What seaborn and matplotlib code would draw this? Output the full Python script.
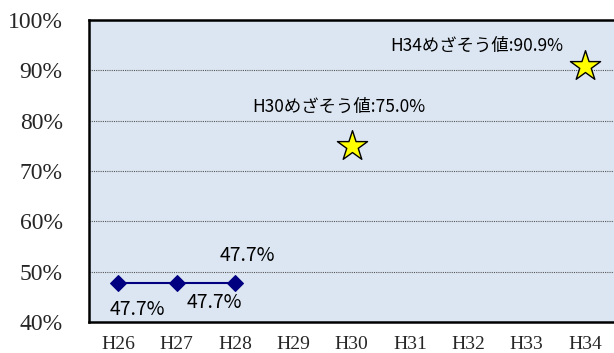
import numpy as np
import pandas as pd
import seaborn as sns
import matplotlib.pyplot as plt
from matplotlib.ticker import FixedLocator, PercentFormatter

sns.set_style("white")
plt.rcParams["font.family"] = ["Liberation Serif", "Noto Sans CJK JP"]

years = ["H26", "H27", "H28", "H29", "H30", "H31", "H32", "H33", "H34"]
actual_years = ["H26", "H27", "H28"]
actual_vals = [47.7, 47.7, 47.7]
target_years = ["H30", "H34"]
target_vals = [75.0, 90.9]
target_labels = ["H30めざそう値:75.0%", "H34めざそう値:90.9%"]

pos = {y: i for i, y in enumerate(years)}
actual = pd.DataFrame({"x": [pos[y] for y in actual_years], "v": actual_vals})
target = pd.DataFrame({"x": [pos[y] for y in target_years], "v": target_vals})

fig = plt.figure(figsize=(6.14, 3.53), dpi=100)
ax = fig.add_axes([0.145, 0.088, 0.855, 0.855])
ax.set_facecolor("#dce6f2")

sns.lineplot(data=actual, x="x", y="v", ax=ax, color="#000080", lw=1.5,
             marker="D", markersize=8, markeredgecolor="#000080", zorder=3)
sns.scatterplot(data=target, x="x", y="v", ax=ax, marker="*", s=520,
                color="#ffff00", edgecolor="black", linewidth=1.0, zorder=4)

ax.set_xlim(-0.5, len(years) - 0.5)
ax.set_ylim(40, 100)
ax.set_yticks(np.arange(40, 101, 10))
ax.yaxis.set_major_formatter(PercentFormatter(decimals=0))
ax.set_xticks(range(len(years)))
ax.set_xticklabels(years, fontsize=14)
ax.xaxis.set_minor_locator(FixedLocator(np.arange(0.5, len(years) - 0.5, 1)))
ax.tick_params(axis="x", which="major", length=0, pad=10)
ax.tick_params(axis="x", which="minor", direction="in", length=5, width=1, color="#555555")
ax.tick_params(axis="y", length=0, labelsize=17, pad=19)
ax.set_xlabel("")
ax.set_ylabel("")

for yv in range(50, 100, 10):
    ax.axhline(yv, color="#555555", lw=0.8, ls=(0, (1, 1)), zorder=1)

for s in ["left", "top", "bottom"]:
    ax.spines[s].set_linewidth(1.8)
    ax.spines[s].set_color("black")
ax.spines["right"].set_visible(False)

sans = ["Noto Sans CJK JP", "DejaVu Sans"]
lab_off = [(0.33, -5.3), (0.65, -3.9), (0.22, 5.45)]
for (x, v), (dx, dy) in zip(zip(actual["x"], actual["v"]), lab_off):
    ax.text(x + dx, v + dy, f"{v:.1f}%", fontsize=14, family=sans,
            ha="center", va="center", color="black")

txt_off = [(-0.22, 7.75), (-1.86, 4.0)]
for (x, v), (dx, dy), t in zip(zip(target["x"], target["v"]), txt_off, target_labels):
    ax.text(x + dx, v + dy, t, fontsize=12.5, family=sans,
            ha="center", va="center", color="black")

fig.savefig("out.png", dpi=100)
